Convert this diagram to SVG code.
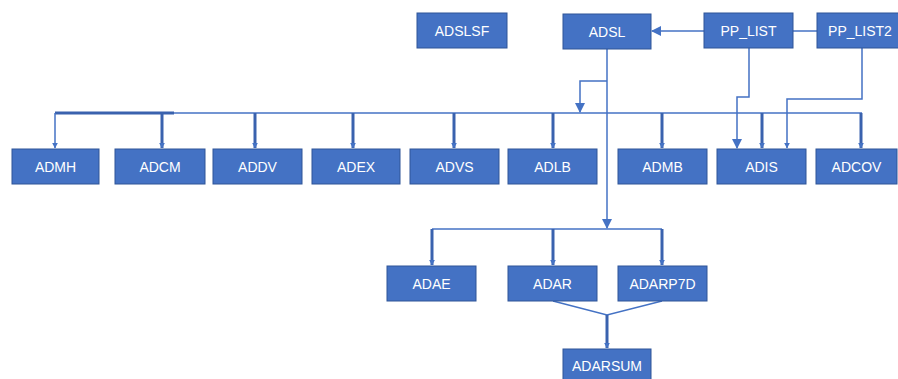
<svg xmlns="http://www.w3.org/2000/svg" width="898" height="379" viewBox="0 0 898 379">
<defs>
<style>
.box rect{fill:#4472C4;stroke:#2F5597;stroke-width:1}
.box text{fill:#fff;font-family:"Liberation Sans",Arial,sans-serif;font-size:14px;text-anchor:middle;dominant-baseline:central}
.thin{fill:none;stroke:#4472C4;stroke-width:1.5}
.thick{fill:none;stroke:#3A62AE;stroke-width:3}
</style>
<marker id="a" viewBox="0 0 10 10" refX="9" refY="5" markerWidth="6" markerHeight="6" orient="auto" markerUnits="userSpaceOnUse"><path d="M0,0 L10,5 L0,10 z" fill="#4472C4"/></marker>
<marker id="b" viewBox="0 0 10 10" refX="9" refY="5" markerWidth="10" markerHeight="10" orient="auto" markerUnits="userSpaceOnUse"><path d="M0,0 L10,5 L0,10 z" fill="#4472C4"/></marker>
</defs>
<rect width="898" height="379" fill="#fff"/>
<g id="connectors">
<path class="thin" d="M704,31 H652" marker-end="url(#b)"/>
<path class="thin" d="M793,31 H817"/>
<path class="thin" d="M607,49 V228" marker-end="url(#b)"/>
<path class="thin" d="M607,81 H580 V112" marker-end="url(#b)"/>
<path class="thin" d="M749,48 V97 H737 V148" marker-end="url(#b)"/>
<path class="thin" d="M862,48 V99 H787 V148" marker-end="url(#a)"/>
<path class="thin" d="M55,113 H862"/>
<path class="thick" d="M55,113 H174"/>
<path class="thin" d="M55,113 V148" marker-end="url(#a)"/>
<g class="thick">
<path d="M162,113 V148" marker-end="url(#a)"/>
<path d="M255,113 V148" marker-end="url(#a)"/>
<path d="M353,113 V148" marker-end="url(#a)"/>
<path d="M454,113 V148" marker-end="url(#a)"/>
<path d="M553,113 V148" marker-end="url(#a)"/>
<path d="M662,113 V148" marker-end="url(#a)"/>
<path d="M762,113 V148" marker-end="url(#a)"/>
<path d="M861,113 V148" marker-end="url(#a)"/>
</g>
<path class="thin" d="M432,229 H662"/>
<g class="thick">
<path d="M432,229 V265" marker-end="url(#a)"/>
<path d="M553,229 V265" marker-end="url(#a)"/>
<path d="M662,229 V265" marker-end="url(#a)"/>
</g>
<path class="thin" d="M553,301 L607,315 L662,301"/>
<path class="thick" d="M607,315 V348" marker-end="url(#a)"/>
</g>
<g id="ADSLSF" class="box"><rect x="417" y="13" width="90" height="35"/><text x="462" y="30.5">ADSLSF</text></g>
<g id="ADSL" class="box"><rect x="563" y="14" width="88" height="35"/><text x="607" y="31.5">ADSL</text></g>
<g id="PP_LIST" class="box"><rect x="704" y="13" width="89" height="35"/><text x="748.5" y="30.5">PP_LIST</text></g>
<g id="PP_LIST2" class="box"><rect x="817" y="13" width="84" height="35"/><text x="860" y="30.5">PP_LIST2</text></g>
<g id="ADMH" class="box"><rect x="12" y="149" width="87" height="35"/><text x="55.5" y="166.5">ADMH</text></g>
<g id="ADCM" class="box"><rect x="115" y="149" width="90" height="35"/><text x="160" y="166.5">ADCM</text></g>
<g id="ADDV" class="box"><rect x="213" y="149" width="89" height="35"/><text x="257.5" y="166.5">ADDV</text></g>
<g id="ADEX" class="box"><rect x="312" y="149" width="88" height="35"/><text x="356" y="166.5">ADEX</text></g>
<g id="ADVS" class="box"><rect x="410" y="149" width="89" height="35"/><text x="454.5" y="166.5">ADVS</text></g>
<g id="ADLB" class="box"><rect x="508" y="149" width="89" height="35"/><text x="552.5" y="166.5">ADLB</text></g>
<g id="ADMB" class="box"><rect x="618" y="149" width="89" height="35"/><text x="662.5" y="166.5">ADMB</text></g>
<g id="ADIS" class="box"><rect x="717" y="149" width="89" height="35"/><text x="761.5" y="166.5">ADIS</text></g>
<g id="ADCOV" class="box"><rect x="816" y="149" width="81" height="35"/><text x="856.5" y="166.5">ADCOV</text></g>
<g id="ADAE" class="box"><rect x="387" y="266" width="89" height="35"/><text x="431.5" y="283.5">ADAE</text></g>
<g id="ADAR" class="box"><rect x="508" y="266" width="89" height="35"/><text x="552.5" y="283.5">ADAR</text></g>
<g id="ADARP7D" class="box"><rect x="618" y="266" width="89" height="35"/><text x="662.5" y="283.5">ADARP7D</text></g>
<g id="ADARSUM" class="box"><rect x="563" y="349" width="88" height="36"/><text x="607" y="366">ADARSUM</text></g>
</svg>
